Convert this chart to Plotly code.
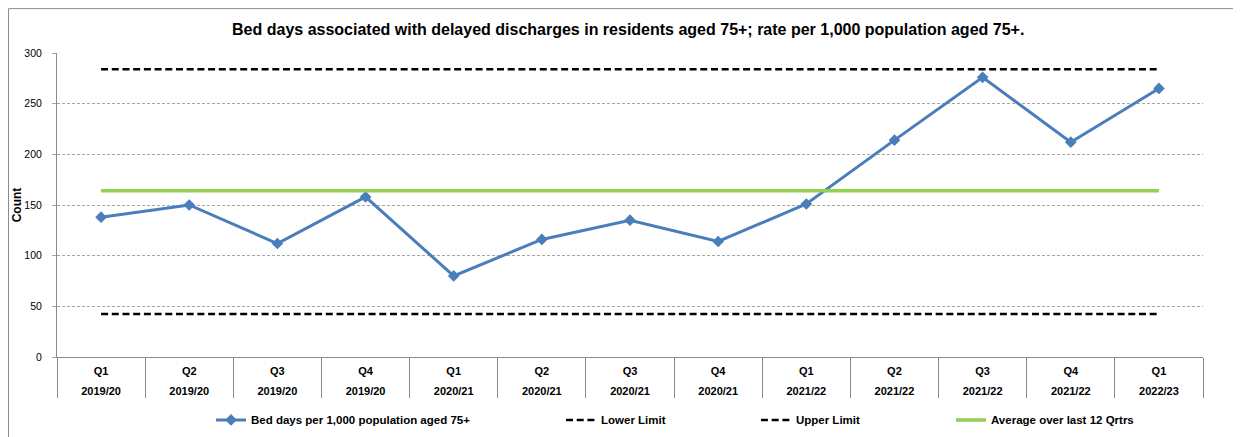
import plotly.graph_objects as go

# 분기 라벨
quarters = ["Q1", "Q2", "Q3", "Q4", "Q1", "Q2", "Q3", "Q4", "Q1", "Q2", "Q3", "Q4", "Q1"]
years = ["2019/20", "2019/20", "2019/20", "2019/20",
         "2020/21", "2020/21", "2020/21", "2020/21",
         "2021/22", "2021/22", "2021/22", "2021/22", "2022/23"]

# 시리즈 값
bed_days = [138, 150, 112, 158, 80, 116, 135, 114, 151, 214, 276, 212, 265]
lower_limit = [42.5] * 13
upper_limit = [284] * 13
average_12q = [164] * 13

cats = [f"{q} {y}" for q, y in zip(quarters, years)]
idx = list(range(len(cats)))

FONT = "Arial, Liberation Sans, sans-serif"

fig = go.Figure()

fig.add_trace(go.Scatter(
    x=cats, y=bed_days, mode="lines+markers",
    name="<b>Bed days per 1,000 population aged 75+</b>",
    line=dict(color="#4A7EBB", width=3),
    marker=dict(symbol="diamond", size=9, color="#4A7EBB"),
    legend="legend"
))
fig.add_trace(go.Scatter(
    x=cats, y=lower_limit, mode="lines", name="<b>Lower Limit</b>",
    line=dict(color="black", width=2.5, dash="7px,3.7px"),
    legend="legend2"
))
fig.add_trace(go.Scatter(
    x=cats, y=upper_limit, mode="lines", name="<b>Upper Limit</b>",
    line=dict(color="black", width=2.5, dash="7px,3.7px"),
    legend="legend3"
))
# 평균선은 연도 라벨 축(x2)에 올림
fig.add_trace(go.Scatter(
    x=idx, y=average_12q, mode="lines", name="<b>Average over last 12 Qrtrs</b>",
    line=dict(color="#92D050", width=3.5),
    xaxis="x2", legend="legend4"
))

# 외곽 테두리
fig.add_shape(type="rect", xref="paper", yref="paper",
              x0=-0.0423, x1=1.05, y0=-0.3, y1=1.146,
              line=dict(color="#8C8C8C", width=1), layer="below")

leg_common = dict(orientation="h", yanchor="middle", y=-0.207, xanchor="left",
                  font=dict(family=FONT, size=11.5, color="black"),
                  bgcolor="rgba(0,0,0,0)")

# 페이지 기본 여백(8px)을 감안한 크기
fig.update_layout(
    width=1233, height=429,
    margin=dict(l=49, r=38, t=45, b=80, autoexpand=False),
    paper_bgcolor="white", plot_bgcolor="white",
    font=dict(family=FONT, color="black"),
    showlegend=True,
    title=dict(
        text="<b>Bed days associated with delayed discharges in residents aged 75+; rate per 1,000 population aged 75+.</b>",
        x=0.503, xref="container", xanchor="center", y=0.949, yref="container",
        yanchor="middle",
        font=dict(family=FONT, size=16, color="black")
    ),
    legend=dict(x=0.1344, **leg_common),
    legend2=dict(x=0.4398, **leg_common),
    legend3=dict(x=0.6099, **leg_common),
    legend4=dict(x=0.7801, **leg_common),
)

fig.update_xaxes(
    type="category", range=[-0.5, 12.5],
    tickmode="array", tickvals=cats, ticktext=[f"<b>{q}</b>" for q in quarters],
    tickfont=dict(family=FONT, size=11, color="black"),
    showgrid=False, showline=True, linecolor="#8C8C8C", linewidth=1,
    ticks="outside", tickson="boundaries", ticklen=40, tickcolor="#8C8C8C",
    ticklabelstandoff=4,
    zeroline=False, automargin=False
)

# 연도 라벨용 보조 축
fig.update_layout(xaxis2=dict(
    overlaying="x", anchor="y", side="bottom", range=[-0.5, 12.5],
    tickmode="array", tickvals=idx, ticktext=[f"<b>{y}</b>" for y in years],
    tickfont=dict(family=FONT, size=11, color="black"),
    showgrid=False, showline=False, ticks="", zeroline=False,
    ticklabelstandoff=26, automargin=False
))

fig.update_yaxes(
    range=[0, 300], dtick=50,
    tickfont=dict(family=FONT, size=10.5, color="black"),
    showgrid=True, gridcolor="#A6A6A6", gridwidth=1, griddash="3px,2px",
    showline=True, linecolor="#8C8C8C", linewidth=1,
    ticks="outside", ticklen=4, tickcolor="#A6A6A6",
    ticklabelstandoff=8,
    zeroline=False, automargin=False,
    title=dict(text="<b>Count</b>", font=dict(family=FONT, size=12, color="black"), standoff=0)
)

fig.write_html("out.html")
